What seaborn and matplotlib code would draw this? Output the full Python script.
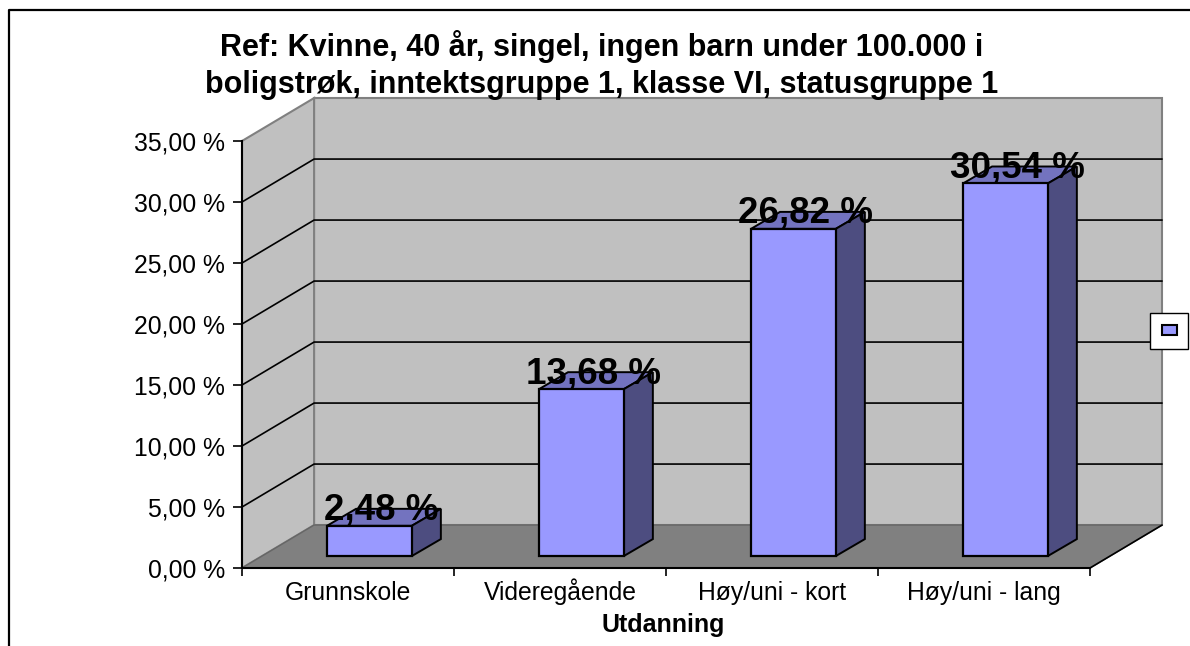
import matplotlib
matplotlib.use("Agg")
import numpy as np
import pandas as pd
import matplotlib.pyplot as plt
import seaborn as sns
from matplotlib.lines import Line2D
from matplotlib.patches import Patch, Polygon
from matplotlib.ticker import FuncFormatter

# Data
categories = ["Grunnskole", "Videregående", "Høy/uni - kort", "Høy/uni - lang"]
values = [2.48, 13.68, 26.82, 30.54]
y_ticks = [0, 5, 10, 15, 20, 25, 30, 35]
title = ("Ref: Kvinne, 40 år, singel, ingen barn under 100.000 i\n"
         "boligstrøk, inntektsgruppe 1, klasse VI, statusgruppe 1")
x_title = "Utdanning"

# Fake 3D depth, in axis units
DEPTH_X = 0.34
DEPTH_Y = 3.52
BAR_OFF_X = 0.101
BAR_OFF_Y = 0.98
BAR_DEPTH_X = 0.137
BAR_DEPTH_Y = 1.39

W, H = 1190, 646

sns.set_style("white")
plt.rcParams["font.family"] = ["Liberation Sans", "DejaVu Sans"]

fig = plt.figure(figsize=(W / 100, H / 100), dpi=100)
ax = fig.add_axes([242 / W, (H - 568) / H, 848 / W, 427 / H])
ax.patch.set_visible(False)

df = pd.DataFrame({"cat": categories, "val": values})
sns.barplot(data=df, x="cat", y="val", color="#9999FF", saturation=1, width=0.4,
            edgecolor="black", linewidth=1.6, ax=ax, zorder=3)

x0, x1 = -0.5, 3.5
y0, y1 = 0, 35
ax.set_xlim(x0, x1)
ax.set_ylim(y0, y1)

# Walls and floor
ax.add_patch(Polygon([(x0 + DEPTH_X, y0 + DEPTH_Y), (x1 + DEPTH_X, y0 + DEPTH_Y),
                      (x1 + DEPTH_X, y1 + DEPTH_Y), (x0 + DEPTH_X, y1 + DEPTH_Y)],
                     facecolor="#C0C0C0", edgecolor="#808080", linewidth=1.5,
                     clip_on=False, zorder=0.5))
ax.add_patch(Polygon([(x0, y0), (x0 + DEPTH_X, y0 + DEPTH_Y),
                      (x0 + DEPTH_X, y1 + DEPTH_Y), (x0, y1)],
                     facecolor="#C0C0C0", edgecolor="#808080", linewidth=1.5,
                     clip_on=False, zorder=0.6))
ax.add_patch(Polygon([(x0, y0), (x1, y0), (x1 + DEPTH_X, y0 + DEPTH_Y),
                      (x0 + DEPTH_X, y0 + DEPTH_Y)],
                     facecolor="#808080", edgecolor="#666666", linewidth=1,
                     clip_on=False, zorder=0.8))
ax.plot([x1, x1 + DEPTH_X], [y0, y0 + DEPTH_Y], color="black", lw=1.2,
        clip_on=False, zorder=0.9)

# Gridlines on back wall and side wall
for t in y_ticks[1:-1]:
    ax.plot([x0, x0 + DEPTH_X, x1 + DEPTH_X], [t, t + DEPTH_Y, t + DEPTH_Y],
            color="black", lw=1.2, clip_on=False, zorder=0.7)

# Move the seaborn bars onto the floor and add top + side faces
for p, v in zip(ax.patches[:len(values)], values):
    left = p.get_x() + BAR_OFF_X
    right = left + p.get_width()
    p.set_x(left)
    p.set_y(BAR_OFF_Y)
    top = BAR_OFF_Y + v
    ax.add_patch(Polygon([(left, top), (right, top),
                          (right + BAR_DEPTH_X, top + BAR_DEPTH_Y),
                          (left + BAR_DEPTH_X, top + BAR_DEPTH_Y)],
                         facecolor="#7373BF", edgecolor="black", linewidth=1.4,
                         clip_on=False, zorder=2.5))
    ax.add_patch(Polygon([(right, BAR_OFF_Y), (right + BAR_DEPTH_X, BAR_OFF_Y + BAR_DEPTH_Y),
                          (right + BAR_DEPTH_X, top + BAR_DEPTH_Y), (right, top)],
                         facecolor="#4D4D80", edgecolor="black", linewidth=1.4,
                         clip_on=False, zorder=2.5))
    ax.text((left + right) / 2 + BAR_DEPTH_X * 0.42, top + BAR_DEPTH_Y - 0.12,
            f"{v:.2f} %".replace(".", ","), ha="center", va="center",
            fontsize=26.5, fontweight="bold", color="black", zorder=5)

# Axes
for s in ["top", "right"]:
    ax.spines[s].set_visible(False)
for s in ["left", "bottom"]:
    ax.spines[s].set_color("black")
    ax.spines[s].set_linewidth(1.5)
    ax.spines[s].set_zorder(4)

ax.set_yticks(y_ticks)
ax.yaxis.set_major_formatter(FuncFormatter(lambda v, pos: f"{v:.2f} %".replace(".", ",")))
ax.set_xticks(np.arange(x0, x1 + 0.5, 1))
ax.set_xticklabels([])
ax.set_xticks(np.arange(len(categories)), labels=categories, minor=True)
ax.tick_params(axis="y", which="major", left=True, length=6.5, width=1.2, color="black",
               pad=5.5, labelsize=17.8, labelcolor="black")
ax.tick_params(axis="x", which="major", bottom=True, length=5.5, width=1.2, color="black")
ax.tick_params(axis="x", which="minor", bottom=False, length=0, pad=23,
               labelsize=17.8, labelcolor="black")
for lab in ax.get_xticklabels(minor=True):
    lab.set_verticalalignment("baseline")
ax.set_ylabel("")
ax.set_xlabel(x_title, fontsize=18, fontweight="bold", color="black", va="center")
ax.xaxis.set_label_coords(0.4965, -0.1335)

fig.text(602 / W, 1 - 65 / H, title, ha="center", va="center", fontsize=22,
         fontweight="bold", color="black", linespacing=1.27)

# Outer frame, cut off on the right and at the bottom
fig.add_artist(Line2D([9 / W, 9 / W, 1], [0, 1 - 10 / H, 1 - 10 / H],
                      color="black", lw=1.6))

# Legend with an empty label
fig.legend(handles=[Patch(facecolor="#9999FF", edgecolor="black", linewidth=1.5)],
           labels=[""], loc="center", bbox_to_anchor=(1169 / W, 1 - 331 / H),
           fancybox=False, framealpha=1, edgecolor="black", handlelength=1.2,
           handleheight=0.9, handletextpad=0, borderpad=0.92, fontsize=9)

fig.savefig("out.png", dpi=100)
